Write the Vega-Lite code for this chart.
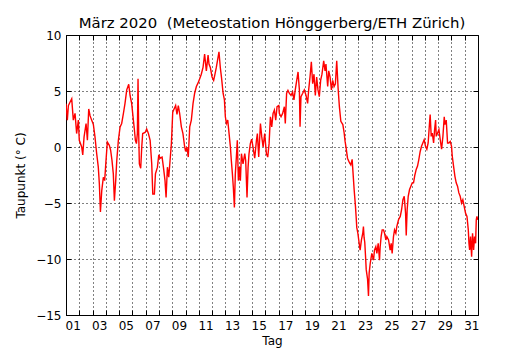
{
  "$schema": "https://vega.github.io/schema/vega-lite/v6.json",
  "width": 412,
  "height": 280,
  "autosize": {"type": "none"},
  "padding": {"left": 66, "top": 35, "right": 52, "bottom": 35},
  "background": "white",
  "title": {"text": "März 2020 \u00a0(Meteostation Hönggerberg/ETH Zürich)", "font": "DejaVu Sans", "fontSize": 14.9, "fontWeight": "normal", "color": "black", "offset": -2, "anchor": "middle"},
  "config": {
    "view": {"stroke": "black", "strokeWidth": 1},
    "axis": {"labelFont": "DejaVu Sans", "titleFont": "DejaVu Sans", "labelFontSize": 12, "titleFontSize": 12, "titleFontWeight": "normal", "labelColor": "black", "titleColor": "black", "tickColor": "black", "gridColor": "black", "gridDash": [1, 3], "gridWidth": 1, "domain": false, "labelOverlap": false, "labelFlush": false, "labelBound": false}
  },
  "data": {"values": [
    {"tag": 0.00, "taupunkt": 3.87}, {"tag": 0.10, "taupunkt": 2.4}, {"tag": 0.18, "taupunkt": 3.7}, {"tag": 0.30, "taupunkt": 4.0}, {"tag": 0.43, "taupunkt": 4.3}, {"tag": 0.55, "taupunkt": 2.4}, {"tag": 0.68, "taupunkt": 3.0}, {"tag": 0.80, "taupunkt": 1.2}, {"tag": 0.93, "taupunkt": 2.4}, {"tag": 1.00, "taupunkt": 0.6}, {"tag": 1.18, "taupunkt": 0.0}, {"tag": 1.26, "taupunkt": -0.7}, {"tag": 1.36, "taupunkt": 0.9}, {"tag": 1.51, "taupunkt": 2.1}, {"tag": 1.61, "taupunkt": 0.6}, {"tag": 1.71, "taupunkt": 3.4}, {"tag": 1.81, "taupunkt": 2.8}, {"tag": 1.93, "taupunkt": 2.4}, {"tag": 2.06, "taupunkt": 2.0}, {"tag": 2.18, "taupunkt": 0.9}, {"tag": 2.31, "taupunkt": -0.6}, {"tag": 2.43, "taupunkt": -1.8}, {"tag": 2.51, "taupunkt": -3.3}, {"tag": 2.59, "taupunkt": -5.8}, {"tag": 2.69, "taupunkt": -3.9}, {"tag": 2.81, "taupunkt": -2.7}, {"tag": 2.91, "taupunkt": -3.0}, {"tag": 3.01, "taupunkt": -1.2}, {"tag": 3.11, "taupunkt": 0.45}, {"tag": 3.26, "taupunkt": 0.15}, {"tag": 3.36, "taupunkt": -0.3}, {"tag": 3.46, "taupunkt": -1.2}, {"tag": 3.56, "taupunkt": -2.4}, {"tag": 3.64, "taupunkt": -4.8}, {"tag": 3.74, "taupunkt": -3.0}, {"tag": 3.82, "taupunkt": -1.2}, {"tag": 3.94, "taupunkt": 0.6}, {"tag": 4.07, "taupunkt": 1.8}, {"tag": 4.19, "taupunkt": 2.1}, {"tag": 4.32, "taupunkt": 3.0}, {"tag": 4.44, "taupunkt": 3.9}, {"tag": 4.57, "taupunkt": 5.1}, {"tag": 4.72, "taupunkt": 5.6}, {"tag": 4.82, "taupunkt": 4.6}, {"tag": 4.94, "taupunkt": 3.9}, {"tag": 5.07, "taupunkt": 2.4}, {"tag": 5.15, "taupunkt": 1.5}, {"tag": 5.22, "taupunkt": 0.6}, {"tag": 5.30, "taupunkt": 0.3}, {"tag": 5.37, "taupunkt": 1.2}, {"tag": 5.42, "taupunkt": 6.1}, {"tag": 5.47, "taupunkt": 1.2}, {"tag": 5.52, "taupunkt": -1.5}, {"tag": 5.62, "taupunkt": -1.9}, {"tag": 5.70, "taupunkt": 0.0}, {"tag": 5.77, "taupunkt": 1.2}, {"tag": 5.95, "taupunkt": 1.3}, {"tag": 6.07, "taupunkt": 1.6}, {"tag": 6.20, "taupunkt": 1.2}, {"tag": 6.33, "taupunkt": 0.6}, {"tag": 6.45, "taupunkt": -1.5}, {"tag": 6.53, "taupunkt": -4.2}, {"tag": 6.65, "taupunkt": -4.2}, {"tag": 6.73, "taupunkt": -2.4}, {"tag": 6.88, "taupunkt": -1.8}, {"tag": 6.98, "taupunkt": -0.7}, {"tag": 7.08, "taupunkt": -1.0}, {"tag": 7.23, "taupunkt": -0.9}, {"tag": 7.33, "taupunkt": -1.8}, {"tag": 7.45, "taupunkt": -3.0}, {"tag": 7.53, "taupunkt": -4.5}, {"tag": 7.63, "taupunkt": -1.8}, {"tag": 7.73, "taupunkt": -2.7}, {"tag": 7.83, "taupunkt": -1.2}, {"tag": 7.93, "taupunkt": 0.3}, {"tag": 8.03, "taupunkt": 3.1},
    {"tag": 8.10, "taupunkt": 3.3}, {"tag": 8.25, "taupunkt": 3.7}, {"tag": 8.35, "taupunkt": 2.9}, {"tag": 8.45, "taupunkt": 3.7}, {"tag": 8.55, "taupunkt": 3.0}, {"tag": 8.68, "taupunkt": 1.8}, {"tag": 8.80, "taupunkt": 1.2}, {"tag": 8.93, "taupunkt": 0.0}, {"tag": 9.00, "taupunkt": -0.4}, {"tag": 9.10, "taupunkt": 0.0}, {"tag": 9.20, "taupunkt": -0.9}, {"tag": 9.31, "taupunkt": 1.8}, {"tag": 9.43, "taupunkt": 2.4}, {"tag": 9.56, "taupunkt": 3.9}, {"tag": 9.68, "taupunkt": 4.8}, {"tag": 9.81, "taupunkt": 5.4}, {"tag": 9.93, "taupunkt": 5.7}, {"tag": 10.06, "taupunkt": 6.1}, {"tag": 10.18, "taupunkt": 6.5}, {"tag": 10.31, "taupunkt": 7.1}, {"tag": 10.43, "taupunkt": 8.3}, {"tag": 10.56, "taupunkt": 6.8}, {"tag": 10.69, "taupunkt": 8.2}, {"tag": 10.76, "taupunkt": 7.4}, {"tag": 10.86, "taupunkt": 7.1}, {"tag": 10.99, "taupunkt": 6.25}, {"tag": 11.11, "taupunkt": 5.95}, {"tag": 11.21, "taupunkt": 6.5}, {"tag": 11.31, "taupunkt": 7.1}, {"tag": 11.44, "taupunkt": 8.0}, {"tag": 11.51, "taupunkt": 8.5}, {"tag": 11.61, "taupunkt": 7.1}, {"tag": 11.71, "taupunkt": 6.1}, {"tag": 11.82, "taupunkt": 4.8}, {"tag": 11.92, "taupunkt": 4.2}, {"tag": 11.99, "taupunkt": 2.7}, {"tag": 12.07, "taupunkt": 2.1}, {"tag": 12.17, "taupunkt": 2.4}, {"tag": 12.27, "taupunkt": 1.2}, {"tag": 12.37, "taupunkt": 0.0}, {"tag": 12.44, "taupunkt": -1.2}, {"tag": 12.52, "taupunkt": -2.4}, {"tag": 12.59, "taupunkt": -3.6}, {"tag": 12.67, "taupunkt": -5.4}, {"tag": 12.74, "taupunkt": -2.4}, {"tag": 12.82, "taupunkt": -0.9}, {"tag": 12.89, "taupunkt": 0.6}, {"tag": 12.97, "taupunkt": -3.0}, {"tag": 13.05, "taupunkt": -1.8}, {"tag": 13.12, "taupunkt": -3.0}, {"tag": 13.20, "taupunkt": -0.6}, {"tag": 13.32, "taupunkt": -1.5}, {"tag": 13.45, "taupunkt": -0.6}, {"tag": 13.52, "taupunkt": -1.2}, {"tag": 13.62, "taupunkt": -4.5}, {"tag": 13.70, "taupunkt": -1.8}, {"tag": 13.77, "taupunkt": -0.6}, {"tag": 13.87, "taupunkt": 0.3}, {"tag": 13.97, "taupunkt": 0.7}, {"tag": 14.07, "taupunkt": 0.0}, {"tag": 14.20, "taupunkt": -1.0}, {"tag": 14.33, "taupunkt": 0.6}, {"tag": 14.40, "taupunkt": 1.2}, {"tag": 14.50, "taupunkt": -0.9}, {"tag": 14.63, "taupunkt": 2.1}, {"tag": 14.73, "taupunkt": 0.9}, {"tag": 14.83, "taupunkt": 0.0}, {"tag": 14.95, "taupunkt": 1.2}, {"tag": 15.08, "taupunkt": -0.6}, {"tag": 15.18, "taupunkt": -0.9}, {"tag": 15.28, "taupunkt": 0.3}, {"tag": 15.38, "taupunkt": 2.7}, {"tag": 15.48, "taupunkt": 1.8}, {"tag": 15.58, "taupunkt": 3.0}, {"tag": 15.68, "taupunkt": 3.3}, {"tag": 15.78, "taupunkt": 2.4}, {"tag": 15.88, "taupunkt": 3.6}, {"tag": 16.01, "taupunkt": 3.7},
    {"tag": 16.05, "taupunkt": 3.0}, {"tag": 16.18, "taupunkt": 2.7}, {"tag": 16.30, "taupunkt": 3.0}, {"tag": 16.43, "taupunkt": 3.6}, {"tag": 16.50, "taupunkt": 2.1}, {"tag": 16.60, "taupunkt": 4.8}, {"tag": 16.70, "taupunkt": 5.06}, {"tag": 16.80, "taupunkt": 4.8}, {"tag": 16.93, "taupunkt": 4.6}, {"tag": 17.05, "taupunkt": 4.9}, {"tag": 17.15, "taupunkt": 4.2}, {"tag": 17.25, "taupunkt": 5.1}, {"tag": 17.36, "taupunkt": 5.95}, {"tag": 17.46, "taupunkt": 6.7}, {"tag": 17.56, "taupunkt": 5.1}, {"tag": 17.61, "taupunkt": 1.8}, {"tag": 17.68, "taupunkt": 4.5}, {"tag": 17.81, "taupunkt": 4.8}, {"tag": 17.93, "taupunkt": 5.1}, {"tag": 18.06, "taupunkt": 4.6}, {"tag": 18.18, "taupunkt": 3.9}, {"tag": 18.26, "taupunkt": 5.1}, {"tag": 18.36, "taupunkt": 6.25}, {"tag": 18.46, "taupunkt": 7.6}, {"tag": 18.56, "taupunkt": 5.65}, {"tag": 18.66, "taupunkt": 6.5}, {"tag": 18.76, "taupunkt": 4.6}, {"tag": 18.86, "taupunkt": 6.25}, {"tag": 18.96, "taupunkt": 5.1}, {"tag": 19.06, "taupunkt": 4.5}, {"tag": 19.16, "taupunkt": 5.95}, {"tag": 19.26, "taupunkt": 6.5}, {"tag": 19.39, "taupunkt": 7.7}, {"tag": 19.49, "taupunkt": 6.8}, {"tag": 19.56, "taupunkt": 7.4}, {"tag": 19.69, "taupunkt": 5.4}, {"tag": 19.77, "taupunkt": 6.8}, {"tag": 19.87, "taupunkt": 6.25}, {"tag": 19.97, "taupunkt": 5.1}, {"tag": 20.07, "taupunkt": 5.95}, {"tag": 20.17, "taupunkt": 5.4}, {"tag": 20.27, "taupunkt": 5.65}, {"tag": 20.37, "taupunkt": 7.7}, {"tag": 20.47, "taupunkt": 5.3}, {"tag": 20.57, "taupunkt": 3.6},
    {"tag": 20.68, "taupunkt": 2.3}, {"tag": 20.83, "taupunkt": 2.0}, {"tag": 20.93, "taupunkt": 1.25}, {"tag": 21.00, "taupunkt": 0.5}, {"tag": 21.08, "taupunkt": -0.1}, {"tag": 21.18, "taupunkt": -1.0}, {"tag": 21.33, "taupunkt": -1.4}, {"tag": 21.43, "taupunkt": -1.6}, {"tag": 21.53, "taupunkt": -1.1}, {"tag": 21.58, "taupunkt": -2.0}, {"tag": 21.68, "taupunkt": -3.8}, {"tag": 21.78, "taupunkt": -5.3}, {"tag": 21.83, "taupunkt": -6.2}, {"tag": 21.88, "taupunkt": -7.2}, {"tag": 21.96, "taupunkt": -7.7}, {"tag": 22.06, "taupunkt": -8.6}, {"tag": 22.13, "taupunkt": -9.2}, {"tag": 22.23, "taupunkt": -8.3}, {"tag": 22.33, "taupunkt": -7.7}, {"tag": 22.38, "taupunkt": -7.1}, {"tag": 22.43, "taupunkt": -8.1}, {"tag": 22.48, "taupunkt": -8.5}, {"tag": 22.54, "taupunkt": -9.8}, {"tag": 22.59, "taupunkt": -10.95}, {"tag": 22.69, "taupunkt": -11.8}, {"tag": 22.76, "taupunkt": -13.3}, {"tag": 22.81, "taupunkt": -11.25}, {"tag": 22.89, "taupunkt": -10.4}, {"tag": 23.01, "taupunkt": -9.5}, {"tag": 23.14, "taupunkt": -10.1}, {"tag": 23.21, "taupunkt": -9.2}, {"tag": 23.31, "taupunkt": -8.9}, {"tag": 23.39, "taupunkt": -9.5}, {"tag": 23.49, "taupunkt": -8.6}, {"tag": 23.59, "taupunkt": -10.1}, {"tag": 23.64, "taupunkt": -8.9}, {"tag": 23.71, "taupunkt": -8.0}, {"tag": 23.79, "taupunkt": -7.4}, {"tag": 23.89, "taupunkt": -7.4}, {"tag": 23.97, "taupunkt": -7.7}, {"tag": 24.07, "taupunkt": -8.3}, {"tag": 24.14, "taupunkt": -8.0}, {"tag": 24.27, "taupunkt": -8.3}, {"tag": 24.39, "taupunkt": -9.2}, {"tag": 24.47, "taupunkt": -8.6}, {"tag": 24.54, "taupunkt": -9.5}, {"tag": 24.64, "taupunkt": -8.0}, {"tag": 24.72, "taupunkt": -7.4}, {"tag": 24.82, "taupunkt": -7.7}, {"tag": 24.89, "taupunkt": -7.1}, {"tag": 25.02, "taupunkt": -6.5}, {"tag": 25.15, "taupunkt": -6.2}, {"tag": 25.25, "taupunkt": -5.6}, {"tag": 25.35, "taupunkt": -4.7}, {"tag": 25.45, "taupunkt": -4.4}, {"tag": 25.55, "taupunkt": -5.9}, {"tag": 25.60, "taupunkt": -7.9}, {"tag": 25.67, "taupunkt": -5.6}, {"tag": 25.75, "taupunkt": -4.4}, {"tag": 25.85, "taupunkt": -3.8}, {"tag": 25.95, "taupunkt": -3.5}, {"tag": 26.05, "taupunkt": -3.2}, {"tag": 26.15, "taupunkt": -3.2}, {"tag": 26.25, "taupunkt": -2.5}, {"tag": 26.35, "taupunkt": -2.0}, {"tag": 26.45, "taupunkt": -1.7}, {"tag": 26.55, "taupunkt": -1.1}, {"tag": 26.65, "taupunkt": -0.4}, {"tag": 26.75, "taupunkt": 0.06}, {"tag": 26.85, "taupunkt": 0.36}, {"tag": 26.95, "taupunkt": 0.65}, {"tag": 27.05, "taupunkt": 0.06}, {"tag": 27.15, "taupunkt": -0.2}, {"tag": 27.25, "taupunkt": 0.36}, {"tag": 27.35, "taupunkt": 2.1}, {"tag": 27.40, "taupunkt": 2.9}, {"tag": 27.48, "taupunkt": 0.95}, {"tag": 27.56, "taupunkt": 1.25}, {"tag": 27.66, "taupunkt": 0.36}, {"tag": 27.73, "taupunkt": 1.5}, {"tag": 27.81, "taupunkt": 2.4}, {"tag": 27.86, "taupunkt": 0.95}, {"tag": 27.96, "taupunkt": 1.25}, {"tag": 28.06, "taupunkt": 1.55}, {"tag": 28.16, "taupunkt": 0.65}, {"tag": 28.26, "taupunkt": -0.2}, {"tag": 28.36, "taupunkt": 0.95}, {"tag": 28.46, "taupunkt": 2.7}, {"tag": 28.51, "taupunkt": 2.0}, {"tag": 28.61, "taupunkt": 2.4}, {"tag": 28.71, "taupunkt": 0.36}, {"tag": 28.81, "taupunkt": 0.36}, {"tag": 28.91, "taupunkt": 0.5}, {"tag": 29.01, "taupunkt": 0.06}, {"tag": 29.06, "taupunkt": -0.8}, {"tag": 29.16, "taupunkt": -1.7}, {"tag": 29.26, "taupunkt": -2.6}, {"tag": 29.36, "taupunkt": -3.2}, {"tag": 29.46, "taupunkt": -3.5}, {"tag": 29.56, "taupunkt": -4.1}, {"tag": 29.66, "taupunkt": -4.4}, {"tag": 29.76, "taupunkt": -5.0}, {"tag": 29.86, "taupunkt": -4.7}, {"tag": 29.96, "taupunkt": -5.3}, {"tag": 30.06, "taupunkt": -5.9}, {"tag": 30.17, "taupunkt": -6.2}, {"tag": 30.27, "taupunkt": -7.4}, {"tag": 30.32, "taupunkt": -8.6}, {"tag": 30.37, "taupunkt": -9.2}, {"tag": 30.44, "taupunkt": -8.0}, {"tag": 30.52, "taupunkt": -9.8}, {"tag": 30.59, "taupunkt": -7.7}, {"tag": 30.67, "taupunkt": -9.2}, {"tag": 30.74, "taupunkt": -8.0}, {"tag": 30.82, "taupunkt": -8.6}, {"tag": 30.87, "taupunkt": -6.5}, {"tag": 30.92, "taupunkt": -6.2}, {"tag": 30.98, "taupunkt": -6.5}
  ]},
  "layer": [
    {
      "mark": {"type": "line", "strokeOpacity": 0},
      "encoding": {
        "x": {"field": "tag", "type": "quantitative",
          "axis": {"orient": "top", "title": null, "labels": false, "grid": true, "tickSize": -5,
            "values": [0, 1, 2, 3, 4, 5, 6, 7, 8, 9, 10, 11, 12, 13, 14, 15, 16, 17, 18, 19, 20, 21, 22, 23, 24, 25, 26, 27, 28, 29, 30, 31]}},
        "y": {"field": "taupunkt", "type": "quantitative",
          "axis": {"orient": "right", "title": null, "labels": false, "grid": false, "tickSize": -5, "values": [-15, -10, -5, 0, 5, 10]}}
      }
    },
    {
      "mark": {"type": "line", "strokeOpacity": 0},
      "encoding": {
        "x": {"field": "tag", "type": "quantitative",
          "axis": {"orient": "bottom", "title": null, "labels": false, "grid": false, "tickSize": -5,
            "values": [0, 1, 2, 3, 4, 5, 6, 7, 8, 9, 10, 11, 12, 13, 14, 15, 16, 17, 18, 19, 20, 21, 22, 23, 24, 25, 26, 27, 28, 29, 30, 31]}},
        "y": {"field": "taupunkt", "type": "quantitative", "axis": null}
      }
    },
    {
      "mark": {"type": "line", "color": "red", "strokeWidth": 1.4, "clip": true},
      "encoding": {
        "x": {"field": "tag", "type": "quantitative", "scale": {"domain": [0, 31], "nice": false, "zero": false},
          "axis": {"orient": "bottom", "title": "Tag", "titlePadding": 4,
            "values": [0.5, 2.5, 4.5, 6.5, 8.5, 10.5, 12.5, 14.5, 16.5, 18.5, 20.5, 22.5, 24.5, 26.5, 28.5, 30.5],
            "labelExpr": "format(datum.value + 0.5, '02d')",
            "grid": false, "tickOpacity": 0, "tickSize": -5, "labelPadding": 10}},
        "y": {"field": "taupunkt", "type": "quantitative", "scale": {"domain": [-15, 10], "nice": false, "zero": false},
          "axis": {"orient": "left", "title": "Taupunkt (° C)", "values": [-15, -10, -5, 0, 5, 10], "grid": true, "tickSize": -5, "labelPadding": 10, "titlePadding": 8}}
      }
    }
  ],
  "resolve": {"axis": {"x": "independent", "y": "independent"}}
}
